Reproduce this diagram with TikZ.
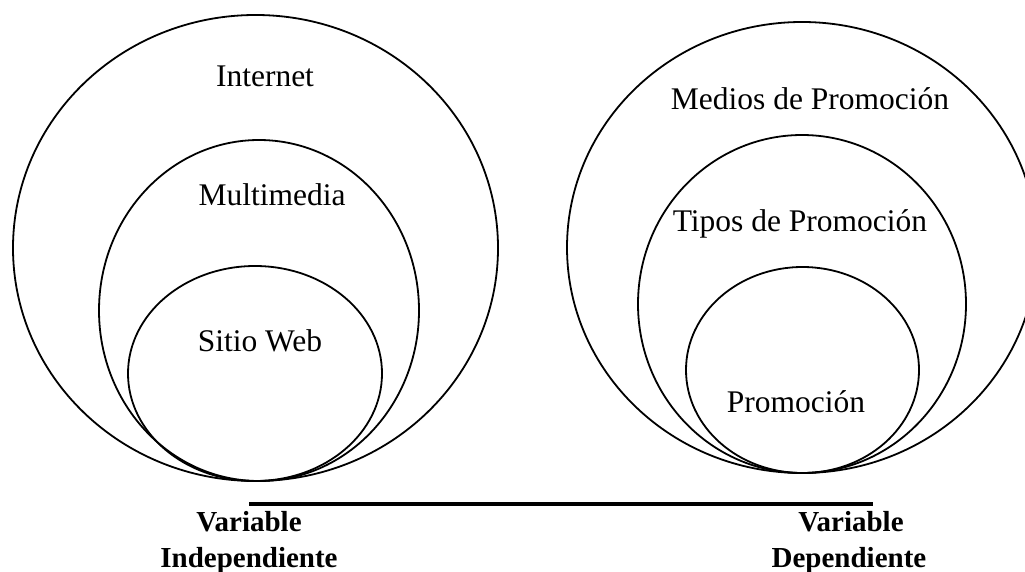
\documentclass[tikz,border=0pt]{standalone}
\usepackage{fontspec}
\setmainfont{Liberation Serif}
\begin{document}
\begin{tikzpicture}[x=1pt,y=-1pt,
  ring/.style={draw=black,line width=1.8pt},
  lbl/.style={anchor=base,inner sep=0pt,font=\fontsize{31.5}{36}\selectfont},
  varlbl/.style={anchor=base,inner sep=0pt,font=\fontsize{29}{34}\selectfont\bfseries},
  axis/.style={draw=black,line width=3.5pt}]
\clip (0,0) rectangle (1025,572);
\fill[white] (0,0) rectangle (1025,572);
% left circles
\draw[ring] (255.5,248) ellipse [x radius=242.5pt, y radius=233pt];
\draw[ring] (259,310.5) ellipse [x radius=160pt, y radius=170.5pt];
\draw[ring] (255,373.5) ellipse [x radius=127pt, y radius=107.5pt];
% right circles
\draw[ring] (802,247.5) ellipse [x radius=235pt, y radius=225.5pt];
\draw[ring] (802,304) ellipse [x radius=164pt, y radius=169pt];
\draw[ring] (802.5,370) ellipse [x radius=116.5pt, y radius=103pt];
% labels
\node[lbl] (internet) at (265,87) {Internet};
\node[lbl] (multi) at (272,206) {Multimedia};
\node[lbl] (sitio) at (260,351) {Sitio Web};
\node[lbl] (medios) at (810,110) {Medios de Promoción};
\node[lbl] (tipos) at (800,232) {Tipos de Promoción};
\node[lbl] (promo) at (796,412) {Promoción};
% axis
\coordinate (la) at (249,504);
\coordinate (ra) at (873,504);
\draw[axis] (la) -- (ra);
\node[varlbl] (v1) at (249,531) {Variable};
\node[varlbl] (i1) at (249,567) {Independiente};
\node[varlbl] (v2) at (851,531) {Variable};
\node[varlbl] (d2) at (849,567) {Dependiente};
\end{tikzpicture}
\end{document}
